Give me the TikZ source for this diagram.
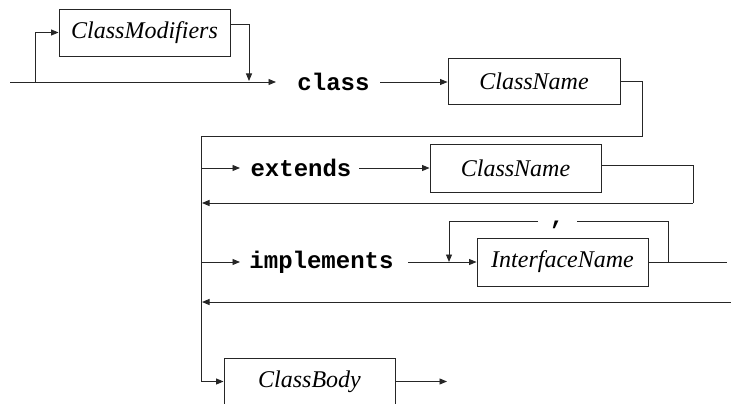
\documentclass[tikz,border=0pt]{standalone}
\usepackage{fontspec}
\setmainfont{Liberation Serif}
\setmonofont{Liberation Mono}
\usetikzlibrary{arrows.meta,calc}
\tikzset{
  x=1pt,y=-1pt,
  conn/.style={line width=0.95pt,draw=black!85},
  arr/.style={conn,-{Triangle[length=7.5pt,width=6pt]}},
  ntbox/.style={draw=black!85,line width=0.9pt,rectangle,minimum width=171pt,minimum height=47pt,inner sep=0pt,
     font=\fontsize{24}{28}\selectfont\itshape},
  kw/.style={inner sep=0pt,font=\fontsize{24}{26}\selectfont\ttfamily\bfseries},
}
\begin{document}
\begin{tikzpicture}
\useasboundingbox (0,0) rectangle (731,404);
% nodes
\node[ntbox] (cm) at (144.5,32.5) {ClassModifiers};
\node[kw] (classkw) at (333.5,82) {class};
\node[ntbox,minimum width=172pt,minimum height=46pt] (cn1) at (534,81) {ClassName};
\node[kw] (extkw) at (301,168) {extends};
\node[ntbox,minimum height=48pt] (cn2) at (515.5,168) {ClassName};
\node[kw] (impkw) at (321.5,262) {implements};
\node[ntbox,minimum height=48pt] (iface) at (562.5,262) {InterfaceName};
\node[kw,anchor=base] (comma) at (557,224) {,};
\node[ntbox] (cb) at (309.5,381.5) {ClassBody};
% coordinates
\coordinate (start) at (10,82);
\coordinate (loopA) at (35,82);
\coordinate (cmout) at ($(cm.north east)!0.34!(cm.south east)$);
\coordinate (cmdown) at (249,81);
\coordinate (tipA) at (276,82);
\coordinate (clsout) at (380,82);
\coordinate (r1) at (642,136);
\coordinate (spine) at (201,136);
\coordinate (extin) at (201,168);
\coordinate (extinTip) at (240,168);
\coordinate (extout) at (359,168);
\coordinate (cn2out) at ($(cn2.north east)!0.44!(cn2.south east)$);
\coordinate (r2) at (693,203);
\coordinate (r2end) at (202,203);
\coordinate (impin) at (201,262);
\coordinate (impinTip) at (240,262);
\coordinate (impout) at (408,262);
\coordinate (loopR) at (668,262);
\coordinate (gapR) at (577,221);
\coordinate (gapL) at (538,221);
\coordinate (loopL) at (449,262);
\coordinate (impend) at (727,262);
\coordinate (r3) at (731,302);
\coordinate (r3end) at (202,302);
\coordinate (cbin) at (201,381.5);
\coordinate (cbtip) at (447,381.5);
% connectors
\draw[arr] (start) -- (tipA);
\draw[arr] (loopA) |- (cm.west);
\draw[arr] (cmout) -| (cmdown);
\draw[arr] (clsout) -- (clsout -| cn1.west);
\draw[conn] (cn1.east) -| (r1) -- (spine) -- (cbin);
\draw[arr] (cbin) -- (cb.west);
\draw[arr] (extin) -- (extinTip);
\draw[arr] (extout) -- (cn2.west);
\draw[conn] (cn2out) -| (r2);
\draw[arr] (r2) -- (r2end);
\draw[arr] (impin) -- (impinTip);
\draw[arr] (impout) -- (iface.west);
\draw[conn] (loopR) |- (gapR);
\draw[arr] (gapL) -| (loopL);
\draw[conn] (iface.east) -- (impend);
\draw[arr] (r3) -- (r3end);
\draw[arr] (cb.east) -- (cbtip);
\end{tikzpicture}
\end{document}
